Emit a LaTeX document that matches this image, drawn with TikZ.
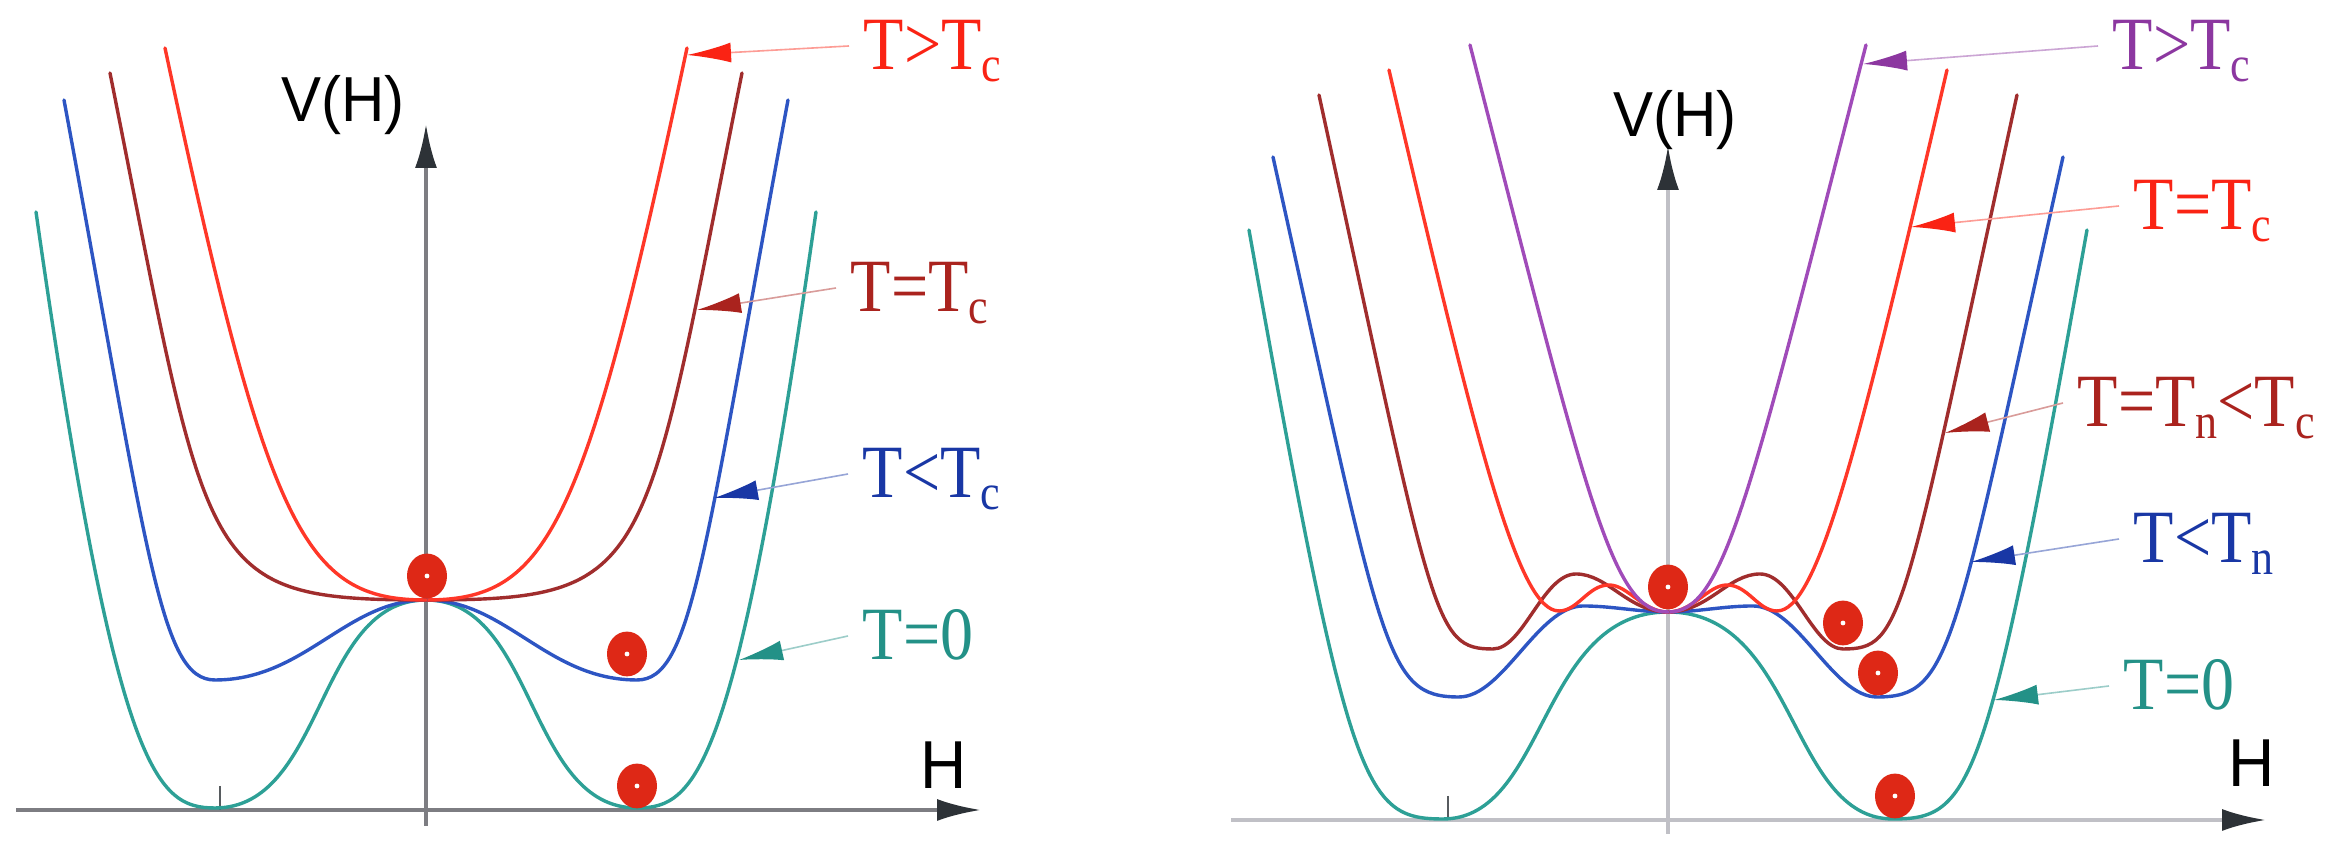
\documentclass[tikz,border=0pt]{standalone}
\usepackage{fontspec}
\setmainfont{Liberation Serif}
\newfontfamily\axfont{Liberation Sans}
\usetikzlibrary{arrows.meta}
\definecolor{cRed}{RGB}{255,55,40}
\definecolor{cBrown}{RGB}{160,45,45}
\definecolor{cBlue}{RGB}{45,85,195}
\definecolor{cTeal}{RGB}{45,160,150}
\definecolor{cPurple}{RGB}{160,75,185}
\definecolor{tRed}{RGB}{250,35,20}
\definecolor{tBrown}{RGB}{170,35,30}
\definecolor{tBlue}{RGB}{25,55,165}
\definecolor{tTeal}{RGB}{35,145,135}
\definecolor{tPurple}{RGB}{140,55,160}
\definecolor{ballred}{RGB}{222,40,22}
\definecolor{axL}{RGB}{125,125,130}
\definecolor{axR}{RGB}{192,192,198}
\definecolor{axTip}{RGB}{45,50,55}
\newcommand\subsc[1]{\raisebox{-2.6pt}{\fontsize{11}{11}\selectfont #1}}
\newcommand\lbltext[1]{\scalebox{1}[1.14]{#1}}
\newcommand\axtext[1]{\scalebox{1}[1.06]{#1}}
\begin{document}
\begin{tikzpicture}[x=0.25pt,y=-0.25pt,
  curve/.style={line width=0.85pt,line cap=round,line join=round},
  axisarrow/.style={line width=1pt,-{Latex[length=11pt,width=5.5pt,color=axTip]}},
  tick/.style={line width=0.6pt,draw=axTip!80},
  lbl/.style={anchor=base west,inner xsep=3.5pt,inner ysep=0pt,font=\fontsize{16.5}{18}\selectfont},
  axlbl/.style={anchor=base,inner sep=0pt,font=\axfont\fontsize{15}{17}\selectfont},
  ptr/.style={line width=0.4pt,draw=#1!45,-{Latex[length=11pt,width=5pt,color=#1]}},
  ball/.style={fill=ballred},
  balldot/.style={fill=white}]
\useasboundingbox (0,0) rectangle (2350,841);
\fill[white] (0,0) rectangle (2350,841);

% ---------------- left panel axes ----------------
\coordinate (LH0) at (16,810);
\coordinate (LH1) at (981,810);
\coordinate (LV0) at (426,826);
\coordinate (LV1) at (426,124);
\draw[axisarrow,draw=axL] (LH0) -- (LH1);
\draw[axisarrow,draw=axL] (LV0) -- (LV1);
\coordinate (LT0) at (220,786);
\coordinate (LT1) at (220,810);
\draw[tick] (LT0) -- (LT1);
\node[axlbl] (LVH) at (343,122) {\axtext{V(H)}};
\node[axlbl,font=\axfont\fontsize{16}{18}\selectfont] (LHl) at (944,789) {\axtext{H}};

% ---------------- left panel curves ----------------
\begin{scope}[shift={(426,810)},yscale=-1]
\foreach \s in {1,-1}{
\begin{scope}[xscale=\s]
\draw[curve,cTeal] (0,210) .. controls (110,210) and (101,2) .. (211,2)
                           .. controls (271,2) and (310,38) .. (390,598);
\draw[curve,cBlue] (0,210) .. controls (80,210) and (121,130) .. (211,130)
                           .. controls (266,130) and (277,251) .. (362,710);
\draw[curve,cBrown] (0,210) .. controls (230,210) and (216,237) .. (316,737);
\draw[curve,cRed] (0,210) .. controls (122,210) and (158,278) .. (261,762);
\end{scope}
}
\end{scope}

% ---------------- right panel axes ----------------
\coordinate (RH0) at (1231,820);
\coordinate (RH1) at (2266,820);
\coordinate (RV0) at (1668,834);
\coordinate (RV1) at (1668,146);
\draw[axisarrow,draw=axR] (RH0) -- (RH1);
\draw[axisarrow,draw=axR] (RV0) -- (RV1);
\coordinate (RT0) at (1448,796);
\coordinate (RT1) at (1448,820);
\draw[tick] (RT0) -- (RT1);
\node[axlbl] (RVH) at (1675,137) {\axtext{V(H)}};
\node[axlbl,font=\axfont\fontsize{16}{18}\selectfont] (RHl) at (2252,787) {\axtext{H}};

% ---------------- right panel curves ----------------
\begin{scope}[shift={(1668,820)},yscale=-1]
\foreach \s in {1,-1}{
\begin{scope}[xscale=\s]
\draw[curve,cTeal] (0,208) .. controls (129,208) and (121,1) .. (225,1)
                           .. controls (305,1) and (319,30) .. (419,590);
\draw[curve,cBlue] (0,208) .. controls (30,208) and (55,214) .. (85,214)
                           .. controls (130,214) and (165,123) .. (209,123)
                           .. controls (284,123) and (285,168) .. (395,663);
\draw[curve,cBrown] (0,208) .. controls (40,208) and (60,246) .. (92,246)
                            .. controls (125,246) and (145,171) .. (175,171)
                            .. controls (235,171) and (234,196) .. (349,725);
\draw[curve,cRed] (0,208) .. controls (25,208) and (40,235) .. (59,235)
                          .. controls (80,235) and (90,209) .. (109,209)
                          .. controls (149,209) and (189,363) .. (279,750);
\draw[curve,cPurple] (0,208) .. controls (55,208) and (78,307) .. (198,775);
\end{scope}
}
\end{scope}

% ---------------- balls ----------------
\foreach \bx/\by in {427/576, 627/654, 637/786, 1668/587, 1843/623, 1878/673, 1895/796}{
  \fill[ball] (\bx,\by) ellipse [x radius=5pt, y radius=5.6pt];
  \fill[balldot] (\bx,\by) circle [radius=0.6pt];
}

% ---------------- labels, left ----------------
\node[lbl,text=tRed]   (lA) at (849,70)  {\lbltext{T>T\subsc{c}}};
\node[lbl,text=tBrown] (lB) at (836,312) {\lbltext{T=T\subsc{c}}};
\node[lbl,text=tBlue]  (lC) at (848,498) {\lbltext{T<T\subsc{c}}};
\node[lbl,text=tTeal]  (lD) at (848,660) {\lbltext{T=0}};
\coordinate (tA) at (687,55);
\coordinate (tB) at (697,310);
\coordinate (tC) at (714,498);
\coordinate (tD) at (739,660);
\draw[ptr=tRed]   ([yshift=6pt]lA.base west) -- (tA);
\draw[ptr=tBrown] ([yshift=6pt]lB.base west) -- (tB);
\draw[ptr=tBlue]  ([yshift=6pt]lC.base west) -- (tC);
\draw[ptr=tTeal]  ([yshift=6pt]lD.base west) -- (tD);

% ---------------- labels, right ----------------
\node[lbl,text=tPurple] (lE) at (2098,70)  {\lbltext{T>T\subsc{c}}};
\node[lbl,text=tRed]    (lF) at (2119,230) {\lbltext{T=T\subsc{c}}};
\node[lbl,text=tBrown]  (lG) at (2063,427) {\lbltext{T=T\subsc{n}<T\subsc{c}}};
\node[lbl,text=tBlue]   (lH) at (2119,563) {\lbltext{T<T\subsc{n}}};
\node[lbl,text=tTeal]   (lI) at (2109,710) {\lbltext{T=0}};
\coordinate (tE) at (1863,64);
\coordinate (tF) at (1911,227);
\coordinate (tG) at (1945,433);
\coordinate (tH) at (1971,562);
\coordinate (tI) at (1994,700);
\draw[ptr=tPurple] ([yshift=6pt]lE.base west) -- (tE);
\draw[ptr=tRed]    ([yshift=6pt]lF.base west) -- (tF);
\draw[ptr=tBrown]  ([yshift=6pt]lG.base west) -- (tG);
\draw[ptr=tBlue]   ([yshift=6pt]lH.base west) -- (tH);
\draw[ptr=tTeal]   ([yshift=6pt]lI.base west) -- (tI);
\end{tikzpicture}
\end{document}
